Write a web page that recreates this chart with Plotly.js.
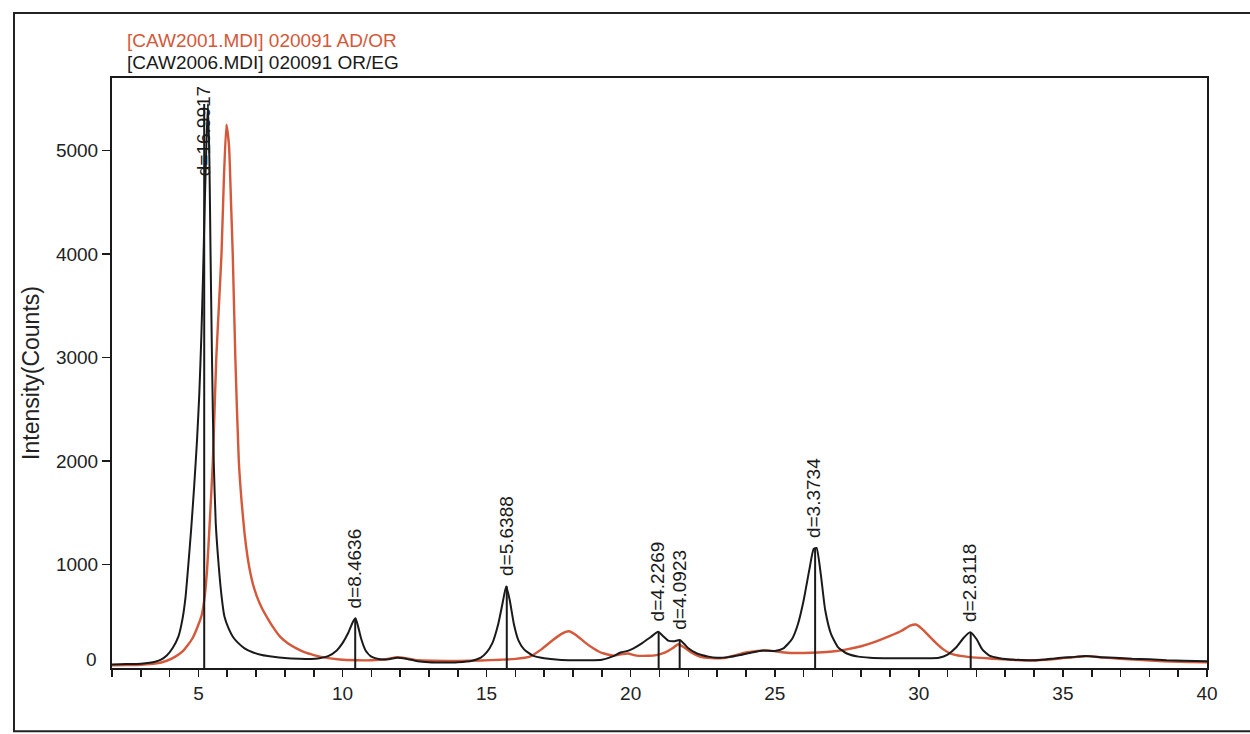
<!DOCTYPE html>
<html>
<head>
<meta charset="utf-8">
<script src="https://cdn.plot.ly/plotly-3.0.1.min.js"></script>
<style>html,body{margin:0;padding:0;background:#fff;}#chart{width:1250px;height:734px;}</style>
</head>
<body>
<div id="chart"></div>
<script>
// ---- data ----
const seriesNames = ["[CAW2001.MDI] 020091 AD/OR", "[CAW2006.MDI] 020091 OR/EG"];

// black pattern: [CAW2006.MDI] 020091 OR/EG
const blackX = [2.0,2.5,3.0,3.3,3.5,3.7,3.9,4.1,4.3,4.45,4.55,4.65,4.75,4.85,4.95,5.03,5.1,5.16,5.22,5.28,5.33,5.38,5.42,5.47,5.53,5.6,5.7,5.8,5.9,6.05,6.2,6.35,6.6,6.9,7.2,7.6,8.0,8.5,8.9,9.2,9.5,9.8,10.0,10.2,10.35,10.45,10.55,10.65,10.8,11.0,11.3,11.6,11.9,12.2,12.6,13.0,13.5,14.0,14.5,14.8,15.0,15.2,15.4,15.55,15.68,15.8,15.95,16.1,16.3,16.6,17.0,17.5,18.0,18.5,19.0,19.4,19.65,19.9,20.1,20.4,20.7,20.95,21.1,21.3,21.5,21.7,21.85,22.0,22.3,22.7,23.0,23.4,23.8,24.2,24.6,25.0,25.3,25.6,25.8,26.0,26.2,26.35,26.45,26.6,26.75,26.95,27.2,27.5,27.9,28.3,29.0,29.6,30.2,30.7,31.0,31.3,31.55,31.78,32.0,32.2,32.45,32.8,33.3,33.8,34.3,34.8,35.3,35.8,36.3,36.8,37.4,38.0,38.6,39.2,40.0];
const blackY = [35,38,42,50,60,80,120,190,300,480,680,1000,1350,1750,2200,2650,3200,3800,4500,5100,5450,4900,4000,3000,2000,1400,1000,700,500,380,300,250,190,150,125,108,97,90,88,95,115,170,240,340,440,480,390,280,170,110,85,85,100,90,65,55,52,55,70,100,150,240,420,620,790,660,420,270,180,120,95,80,75,75,80,115,150,165,190,240,300,350,315,265,258,270,235,190,140,110,100,105,125,150,170,165,190,280,420,650,950,1150,1160,900,560,330,200,140,110,100,95,95,95,100,130,200,290,345,280,180,120,95,80,75,80,95,105,115,105,100,90,85,75,70,65];

// red pattern: [CAW2001.MDI] 020091 AD/OR
const redX = [2.0,2.5,3.0,3.5,3.9,4.2,4.45,4.6,4.8,5.0,5.12,5.22,5.3,5.4,5.5,5.56,5.62,5.71,5.8,5.88,5.97,6.06,6.13,6.19,6.28,6.4,6.5,6.6,6.7,6.8,6.9,7.03,7.2,7.4,7.6,7.84,8.1,8.4,8.7,9.0,9.4,9.9,10.5,11.0,11.5,11.9,12.2,12.6,13.2,14.0,14.8,15.5,16.0,16.5,16.9,17.3,17.6,17.85,18.1,18.4,18.7,19.0,19.4,19.7,19.9,20.2,20.6,20.9,21.2,21.45,21.65,21.85,22.1,22.4,22.8,23.2,23.6,24.0,24.4,24.8,25.2,25.6,26.0,26.5,27.0,27.5,28.0,28.5,29.0,29.4,29.7,29.9,30.1,30.35,30.6,30.85,31.1,31.5,32.0,32.6,33.2,33.8,34.4,35.0,35.5,35.9,36.4,37.0,37.6,38.2,38.8,39.4,40.0];
const redY = [25,28,32,42,70,110,160,210,290,420,520,700,950,1450,2000,2500,3000,3500,4000,4700,5250,5050,4500,4000,3000,2000,1600,1300,1080,920,800,690,580,480,390,300,240,190,150,125,100,82,75,75,85,105,95,75,70,68,72,80,88,110,180,270,330,355,320,250,190,145,120,135,140,120,118,125,150,190,230,200,150,110,95,95,120,150,165,168,155,145,145,150,160,180,210,255,310,360,410,420,380,310,240,180,140,115,100,90,80,72,80,95,108,115,100,90,80,70,62,58,55];

// marked reflections (2-theta of the stick, peak height, d-spacing label)
const peakPos = [5.20, 10.44, 15.70, 20.97, 21.70, 26.40, 31.80];
const peakHeight = [5450, 480, 790, 350, 270, 1160, 345];
const peakLabels = ["d=16.9917","d=8.4636","d=5.6388","d=4.2269","d=4.0923","d=3.3734","d=2.8118"];

const xTickVals = [5,10,15,20,25,30,35,40];
const yTickVals = [1000,2000,3000,4000,5000];
const yTitle = "Intensity(Counts)";

// ---- chart ----
const RED = "#d4583a";
const INK = "#1a1a1a";
const FONT = "Liberation Sans, Arial, sans-serif";

const stickX = [], stickY = [];
peakPos.forEach((p, i) => { stickX.push(p, p, null); stickY.push(0, peakHeight[i], null); });

const traces = [
  {x: redX, y: redY, type: "scatter", mode: "lines", name: seriesNames[0],
   line: {color: RED, width: 2.4, shape: "spline", smoothing: 0.5}, hoverinfo: "x+y"},
  {x: blackX, y: blackY, type: "scatter", mode: "lines", name: seriesNames[1],
   line: {color: INK, width: 2, shape: "spline", smoothing: 0.5}, hoverinfo: "x+y"},
  {x: stickX, y: stickY, type: "scatter", mode: "lines", name: "d-spacing",
   line: {color: INK, width: 2}, hoverinfo: "skip"}
];

const Y_MAX = 5700;
const annotations = [];
peakPos.forEach((p, i) => {
  const tall = peakHeight[i] > 4500;
  annotations.push({
    x: p, xref: "x", xanchor: "center", xshift: -1,
    y: tall ? 1 : peakHeight[i], yref: tall ? "paper" : "y",
    yanchor: tall ? "top" : "bottom", yshift: tall ? -6 : 8,
    text: peakLabels[i], textangle: -90, showarrow: false,
    font: {family: FONT, size: 19, color: INK}
  });
});
// series captions above the plot
annotations.push({xref: "paper", yref: "paper", x: 0.012, y: 1.0, yshift: 38, xanchor: "left", yanchor: "middle",
  text: seriesNames[0], showarrow: false, font: {family: FONT, size: 19, color: RED}});
annotations.push({xref: "paper", yref: "paper", x: 0.012, y: 1.0, yshift: 16, xanchor: "left", yanchor: "middle",
  text: seriesNames[1], showarrow: false, font: {family: FONT, size: 19, color: INK}});
// zero label sits a little above the axis corner
annotations.push({xref: "paper", yref: "y", x: 0, xshift: -13, y: 0, yshift: 9, xanchor: "right", yanchor: "middle",
  text: "0", showarrow: false, font: {family: FONT, size: 19, color: "#222"}});

const layout = {
  width: 1250, height: 734,
  margin: {l: 112, r: 43, t: 78, b: 66},
  paper_bgcolor: "#ffffff", plot_bgcolor: "#ffffff",
  showlegend: false,
  font: {family: FONT, size: 19, color: "#222"},
  xaxis: {
    range: [2, 40], tickvals: xTickVals, ticks: "outside", ticklen: 7, tickwidth: 1.6, tickcolor: INK,
    minor: {dtick: 1, tick0: 0, ticks: "outside", ticklen: 7, tickwidth: 1.6, tickcolor: INK, showgrid: false},
    showline: true, linecolor: INK, linewidth: 2, mirror: true,
    showgrid: false, zeroline: false, tickfont: {family: FONT, size: 19, color: "#222"}
  },
  yaxis: {
    range: [0, Y_MAX], tickvals: yTickVals, ticks: "outside", ticklen: 8, tickwidth: 1.6, tickcolor: INK,
    showline: true, linecolor: INK, linewidth: 2, mirror: true,
    showgrid: false, zeroline: false, tickfont: {family: FONT, size: 19, color: "#222"},
    title: {text: yTitle, font: {family: FONT, size: 23, color: "#222"}, standoff: 10}
  },
  shapes: [
    {type: "rect", xref: "paper", yref: "paper", x0: -0.0895, x1: 1.06, y0: -0.107, y1: 1.11,
     line: {color: "#222", width: 2}, fillcolor: "rgba(0,0,0,0)", layer: "below"}
  ],
  annotations: annotations
};

Plotly.newPlot("chart", traces, layout, {displayModeBar: false, staticPlot: true});
</script>
</body>
</html>
